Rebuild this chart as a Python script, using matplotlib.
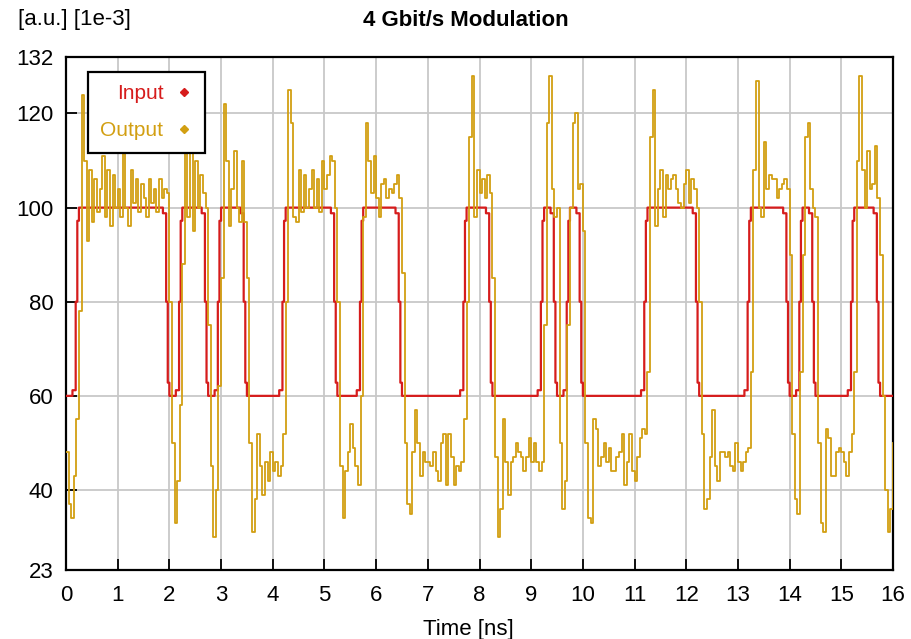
import numpy as np
import matplotlib
matplotlib.use("Agg")
import matplotlib.pyplot as plt
from matplotlib.lines import Line2D

plt.rcParams['font.family'] = ['Liberation Sans', 'DejaVu Sans']

# bit pattern of the input (0.25 ns per bit, 64 bits)
bits = [0, 1, 1, 1, 1, 1, 1, 1, 0, 1, 1, 0, 1, 1, 0, 0,
        0, 1, 1, 1, 1, 0, 0, 1, 1, 1, 0, 0, 0, 0, 0, 1,
        1, 0, 0, 0, 0, 1, 0, 1, 0, 0, 0, 0, 0, 1, 1, 1,
        1, 0, 0, 0, 0, 1, 1, 1, 0, 1, 0, 0, 0, 1, 1, 0]
bit_time = 0.25
in_low, in_high = 60, 100
# fraction of the step reached at samples before/at a bit edge (8 samples per bit)
edge_profile = [0.03, 0.03, 0.5, 0.93]

# output, sampled every 0.05 ns (one row per ns)
out_vals = [
    48, 37, 34, 43, 55, 78, 124, 110, 93, 108, 97, 106, 99, 104, 111, 98, 108, 96, 107, 100,
    104, 98, 112, 100, 96, 108, 101, 106, 99, 105, 102, 98, 106, 101, 104, 99, 106, 102, 104, 103,
    80, 50, 33, 42, 58, 88, 114, 98, 113, 95, 110, 100, 107, 103, 100, 75, 45, 30, 40, 62,
    85, 122, 110, 96, 104, 112, 100, 97, 110, 97, 85, 50, 31, 38, 52, 45, 39, 46, 42, 48,
    44, 46, 43, 45, 52, 80, 125, 118, 98, 97, 108, 99, 107, 100, 104, 108, 100, 106, 99, 110,
    104, 107, 111, 110, 100, 80, 45, 34, 44, 48, 54, 49, 45, 41, 60, 98, 118, 110, 103, 111,
    102, 98, 105, 106, 102, 104, 103, 105, 107, 102, 86, 50, 37, 35, 48, 57, 50, 43, 48, 46,
    46, 45, 48, 44, 42, 50, 52, 41, 52, 47, 41, 45, 44, 46, 55, 80, 115, 128, 98, 108,
    103, 106, 102, 107, 103, 85, 47, 30, 36, 55, 46, 39, 46, 47, 50, 48, 47, 44, 47, 51,
    46, 50, 46, 44, 46, 75, 118, 128, 104, 98, 100, 50, 36, 42, 75, 100, 118, 120, 104, 105,
    95, 50, 34, 33, 55, 53, 45, 47, 50, 46, 49, 44, 44, 47, 48, 52, 41, 46, 52, 44,
    42, 47, 51, 53, 52, 65, 115, 125, 96, 104, 108, 98, 107, 104, 106, 107, 104, 101, 100, 105,
    108, 101, 106, 104, 100, 80, 52, 36, 38, 47, 57, 45, 42, 48, 48, 47, 48, 45, 44, 50,
    46, 44, 46, 48, 49, 65, 108, 127, 100, 98, 114, 104, 107, 106, 106, 102, 104, 105, 106, 104,
    90, 52, 38, 35, 65, 90, 115, 118, 104, 100, 98, 50, 33, 31, 53, 51, 43, 43, 48, 49,
    48, 46, 43, 48, 52, 65, 110, 128, 108, 100, 112, 104, 105, 113, 102, 90, 60, 40, 31, 36,
    50,
]
out_dt = 0.05

spb = 8
in_level = np.repeat(bits, spb).astype(float)
for k in range(1, len(bits)):
    if bits[k] != bits[k - 1]:
        b = k * spb
        for j, f in enumerate(edge_profile):
            in_level[b - len(edge_profile) + j] = f if bits[k] == 1 else 1 - f
t_in = np.arange(len(in_level) + 1) * bit_time / spb
y_in = in_low + (in_high - in_low) * np.append(in_level, in_level[-1])

t_out = np.arange(len(out_vals)) * out_dt
y_out = np.array(out_vals, dtype=float)

red = '#d61c1c'
gold = '#d29f12'

fig = plt.figure(figsize=(9.12, 6.39), dpi=100)
ax = fig.add_axes([66 / 912, 69 / 639, 827 / 912, 513 / 639])

ax.plot(t_in, y_in, color=red, lw=1.6, drawstyle='steps-post', zorder=3)
ax.plot(t_out, y_out, color=gold, lw=1.3, drawstyle='steps-post', zorder=4)

ax.set_xlim(0, 16)
ax.set_ylim(23, 132)
ax.set_xticks(range(0, 17))
ax.set_yticks([23, 40, 60, 80, 100, 120, 132])
ax.grid(True, color='#c8c8c8', lw=1.3)
ax.set_axisbelow(True)
ax.tick_params(direction='in', length=8, width=1.3, labelsize=16)
ax.tick_params(axis='x', pad=11)
ax.tick_params(axis='y', pad=9)
for s in ax.spines.values():
    s.set_linewidth(1.6)

fig.text(466 / 912, 1 - 20 / 639, '4 Gbit/s Modulation', ha='center', va='center',
         fontsize=16, fontweight='bold')
fig.text(18 / 912, 1 - 20 / 639, '[a.u.] [1e-3]', ha='left', va='center', fontsize=16)
fig.text(468 / 912, 1 - 630 / 639, 'Time [ns]', ha='center', va='center', fontsize=16)

handles = [Line2D([], [], color=red, marker='D', markersize=4, ls='none'),
           Line2D([], [], color=gold, marker='D', markersize=4, ls='none')]
leg = ax.legend(handles, ['Input', 'Output'], loc='upper left', bbox_to_anchor=(0.0266, 0.971),
                borderaxespad=0, markerfirst=False, fontsize=15, fancybox=False, framealpha=1,
                edgecolor='black', handlelength=0.8, handletextpad=0.6,
                borderpad=0.6, labelspacing=0.85)
leg.get_frame().set_linewidth(1.6)
for txt, c in zip(leg.get_texts(), [red, gold]):
    txt.set_color(c)
leg.set_zorder(10)

fig.savefig('out.png', dpi=100)
